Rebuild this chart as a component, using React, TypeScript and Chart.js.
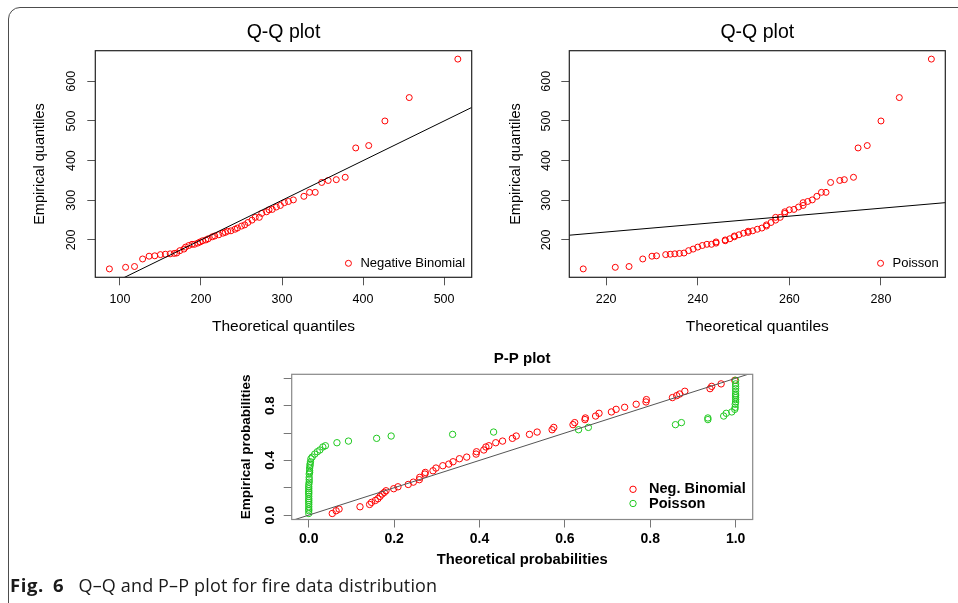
import React, { useEffect, useRef } from "react";
import { Chart, registerables } from "chart.js";

Chart.register(...registerables);

// ---------- Q-Q data (empirical quantiles vs theoretical quantiles) ----------
const QQ_EMPIRICAL = [
  127, 131, 133, 152, 159, 160, 163, 164, 165, 166,
  167, 173, 177, 182, 186, 189, 189, 192, 195, 198,
  200, 203, 208, 210, 213, 217, 219, 222, 223, 227,
  230, 235, 238, 244, 250, 257, 257, 267, 271, 276,
  277, 283, 287, 294, 297, 301, 310, 320, 320, 345,
  350, 352, 358, 432, 438, 500, 559, 656,
];
const QQ_NB_THEORETICAL = [
  87, 107, 118, 128, 136, 143, 150, 156, 162, 167,
  170, 174, 179, 181, 185, 189, 192, 196, 199, 202,
  206, 209, 214, 217, 222, 227, 230, 233, 237, 242,
  245, 250, 254, 258, 263, 267, 272, 275, 281, 284,
  288, 293, 298, 303, 308, 314, 327, 334, 341, 349,
  357, 367, 378, 391, 407, 427, 457, 517,
];
const QQ_POIS_THEORETICAL = [
  215, 222, 225, 228, 230, 231, 233, 234, 235, 236,
  237, 238, 239, 240, 241, 242, 243, 244, 244, 246,
  246, 247, 248, 248, 249, 250, 251, 251, 252, 253,
  254, 255, 255, 256, 257, 257, 258, 259, 259, 260,
  261, 262, 263, 263, 264, 265, 266, 267, 268, 269,
  271, 272, 274, 275, 277, 280, 284, 291,
];
const QQ_NB_X_TICKS = [100, 200, 300, 400, 500];
const QQ_POIS_X_TICKS = [220, 240, 260, 280];
const QQ_Y_TICKS = [200, 300, 400, 500, 600];
const QQ_REF_LINE = [0, 1000]; // y = x

// ---------- P-P data (empirical vs theoretical probabilities) ----------
const PP_EMPIRICAL = [
  0.012, 0.032, 0.044, 0.061, 0.078, 0.093, 0.107, 0.12, 0.137, 0.154,
  0.166, 0.178, 0.193, 0.207, 0.224, 0.241, 0.259, 0.276, 0.3, 0.312,
  0.324, 0.344, 0.361, 0.373, 0.39, 0.412, 0.424, 0.446, 0.463, 0.476,
  0.498, 0.507, 0.529, 0.541, 0.561, 0.578, 0.59, 0.607, 0.624, 0.641,
  0.661, 0.676, 0.698, 0.71, 0.724, 0.744, 0.754, 0.773, 0.788, 0.81,
  0.827, 0.844, 0.859, 0.873, 0.885, 0.905, 0.924, 0.941, 0.959, 0.985,
];
const PP_NB_THEORETICAL = [
  0.055, 0.064, 0.071, 0.12, 0.1425, 0.147, 0.156, 0.162, 0.167, 0.172,
  0.177, 0.181, 0.199, 0.209, 0.233, 0.245, 0.259, 0.26, 0.272, 0.273,
  0.291, 0.298, 0.314, 0.328, 0.338, 0.353, 0.37, 0.392, 0.393, 0.41,
  0.415, 0.422, 0.438, 0.454, 0.477, 0.486, 0.517, 0.535, 0.57, 0.574,
  0.619, 0.623, 0.647, 0.648, 0.672, 0.68, 0.709, 0.72, 0.74, 0.767,
  0.79, 0.791, 0.852, 0.862, 0.869, 0.881, 0.94, 0.944, 0.966, 0.998,
];
const PP_POIS_THEORETICAL = [
  0, 0, 0, 0, 0, 0, 0, 0, 0, 0,
  0, 0, 0, 0, 0, 0.001, 0.001, 0.001, 0.001, 0.002,
  0.002, 0.002, 0.003, 0.003, 0.004, 0.005, 0.008, 0.014, 0.02, 0.026,
  0.033, 0.039, 0.066, 0.093, 0.159, 0.193, 0.337, 0.433, 0.632, 0.655,
  0.859, 0.873, 0.935, 0.935, 0.972, 0.978, 0.991, 0.998, 0.999, 0.999,
  1, 1, 1, 1, 1, 1, 1, 1, 1, 1,
];
const PP_TICKS = [0, 0.2, 0.4, 0.6, 0.8, 1.0];
const PP_Y_LABELED = [0, 0.4, 0.8];
const PP_REF_LINE = [-0.2, 1.2]; // y = x

const SANS = '"Liberation Sans", Arial, Helvetica, sans-serif';
const RED = "#ff0000";
const GREEN = "#1fc81f";

const pairs = (xs: number[], ys: number[]) => xs.map((x, i) => ({ x, y: ys[i] }));
const refLine = (ends: number[]) => ends.map((v) => ({ x: v, y: v }));

// Draws the R-style box round the plot region and an R-style legend inside it
const rFramePlugin = {
  id: "rFrame",
  afterDatasetsDraw(chart: any, _args: any, opts: any) {
    const { ctx, chartArea: a } = chart;
    ctx.save();
    ctx.strokeStyle = opts.boxColor;
    ctx.lineWidth = opts.boxWidth;
    ctx.strokeRect(a.left, a.top, a.right - a.left, a.bottom - a.top);
    const items = chart.data.datasets.filter((d: any) => d.label);
    ctx.font = opts.legendFont;
    const maxW = Math.max(...items.map((d: any) => ctx.measureText(d.label).width));
    const textX = a.right - opts.legendRight - maxW;
    items.forEach((d: any, i: number) => {
      const y = a.bottom - opts.legendBottom - (items.length - 1 - i) * opts.legendRow;
      ctx.beginPath();
      ctx.arc(textX - opts.symbolGap, y, d.pointRadius, 0, Math.PI * 2);
      ctx.strokeStyle = d.borderColor;
      ctx.lineWidth = 1;
      ctx.stroke();
      ctx.fillStyle = "#000";
      ctx.textAlign = "left";
      ctx.textBaseline = "middle";
      ctx.fillText(d.label, textX, y);
    });
    ctx.restore();
  },
};

function buildConfig(p: any) {
  return {
    type: "scatter",
    data: { datasets: p.datasets },
    options: {
      responsive: false,
      animation: false,
      events: [],
      layout: { padding: { left: 0, right: p.padRight, top: 0, bottom: 0 } },
      plugins: {
        legend: { display: false },
        tooltip: { enabled: false },
        title: {
          display: true,
          text: p.title,
          font: p.titleFont,
          color: "#000",
          padding: p.titlePad,
          fullSize: false,
        },
        rFrame: p.frame,
      },
      scales: {
        x: {
          type: "linear",
          position: "bottom",
          bounds: "data",
          min: p.xMin,
          max: p.xMax,
          afterBuildTicks: (s: any) => {
            s.ticks = p.xTicks.map((value: number) => ({ value }));
          },
          afterFit: (s: any) => {
            s.height = p.xAxisHeight;
          },
          ticks: {
            font: p.xTickFont,
            color: "#000",
            padding: p.xTickPad,
            autoSkip: false,
            minRotation: 0,
            maxRotation: 0,
            callback: p.xFmt,
          },
          grid: { drawOnChartArea: false, drawTicks: true, tickLength: 8, color: p.tickColor, tickColor: p.tickColor, lineWidth: 1 },
          border: { display: false },
          title: { display: true, text: p.xLabel, font: p.xTitleFont, color: "#000", padding: { top: 0, bottom: p.xTitlePadBottom } },
        },
        y: {
          type: "linear",
          position: "left",
          bounds: "data",
          min: p.yMin,
          max: p.yMax,
          afterBuildTicks: (s: any) => {
            s.ticks = p.yTicks.map((value: number) => ({ value }));
          },
          afterFit: (s: any) => {
            s.width = p.yAxisWidth;
          },
          ticks: {
            font: p.yTickFont,
            color: "#000",
            padding: p.yTickPad,
            autoSkip: false,
            minRotation: 90,
            maxRotation: 90,
            crossAlign: "center",
            callback: p.yFmt,
          },
          grid: { drawOnChartArea: false, drawTicks: true, tickLength: 8, color: p.tickColor, tickColor: p.tickColor, lineWidth: 1 },
          border: { display: false },
          title: { display: true, text: p.yLabel, font: p.yTitleFont, color: "#000", padding: { top: p.yTitlePadTop, bottom: 0 } },
        },
      },
    },
    plugins: [rFramePlugin],
  };
}

function qqConfig(theo: number[], label: string, xTicks: number[], xMin: number, xMax: number, yAxisWidth: number, padRight: number, yTickPad: number, yTitlePadTop: number) {
  return buildConfig({
    datasets: [
      {
        label,
        data: pairs(theo, QQ_EMPIRICAL),
        borderColor: RED,
        backgroundColor: "rgba(0,0,0,0)",
        borderWidth: 1,
        pointRadius: 3,
        pointStyle: "circle",
        order: 2,
      },
      {
        data: refLine(QQ_REF_LINE),
        showLine: true,
        borderColor: "#000",
        borderWidth: 1,
        pointRadius: 0,
        order: 0,
      },
    ],
    title: "Q-Q plot",
    titleFont: { family: SANS, size: 19.5, weight: "normal" },
    titlePad: { top: 20.8, bottom: 6.5 },
    padRight,
    xMin,
    xMax,
    yMin: 105.8,
    yMax: 677.2,
    xTicks,
    yTicks: QQ_Y_TICKS,
    xFmt: (v: number) => String(v),
    yFmt: (v: number) => String(v),
    xLabel: "Theoretical quantiles",
    yLabel: "Empirical quantiles",
    xTickFont: { family: SANS, size: 12.5 },
    yTickFont: { family: SANS, size: 12.5 },
    xTitleFont: { family: SANS, size: 15.5 },
    yTitleFont: { family: SANS, size: 14.5 },
    xTickPad: 7.2,
    yTickPad,
    xTitlePadBottom: 4,
    yTitlePadTop,
    yAxisWidth,
    xAxisHeight: 62.7,
    tickColor: "#555",
    frame: {
      boxColor: "#222",
      boxWidth: 1.2,
      legendFont: `13px ${SANS}`,
      legendRight: 6.5,
      legendBottom: 14,
      legendRow: 14,
      symbolGap: 12,
    },
  });
}

function ppConfig() {
  return buildConfig({
    datasets: [
      {
        label: "Neg. Binomial",
        data: pairs(PP_NB_THEORETICAL, PP_EMPIRICAL),
        borderColor: RED,
        backgroundColor: "rgba(0,0,0,0)",
        borderWidth: 1,
        pointRadius: 3.2,
        order: 2,
      },
      {
        label: "Poisson",
        data: pairs(PP_POIS_THEORETICAL, PP_EMPIRICAL),
        borderColor: GREEN,
        backgroundColor: "rgba(0,0,0,0)",
        borderWidth: 1,
        pointRadius: 3.2,
        order: 1,
      },
      {
        data: refLine(PP_REF_LINE),
        showLine: true,
        borderColor: "#555",
        borderWidth: 1,
        pointRadius: 0,
        order: 0,
      },
    ],
    title: "P-P plot",
    titleFont: { family: SANS, size: 15, weight: "bold" },
    titlePad: { top: 10, bottom: 6.3 },
    padRight: 27.3,
    xMin: -0.04,
    xMax: 1.04,
    yMin: -0.032,
    yMax: 1.029,
    xTicks: PP_TICKS,
    yTicks: PP_TICKS,
    xFmt: (v: number) => v.toFixed(1),
    yFmt: (v: number) => (PP_Y_LABELED.some((l) => Math.abs(l - v) < 1e-9) ? v.toFixed(1) : ""),
    xLabel: "Theoretical probabilities",
    yLabel: "Empirical probabilities",
    xTickFont: { family: SANS, size: 14, weight: "bold" },
    yTickFont: { family: SANS, size: 13.5, weight: "bold" },
    xTitleFont: { family: SANS, size: 14.8, weight: "bold" },
    yTitleFont: { family: SANS, size: 13.5, weight: "bold" },
    xTickPad: 3.1,
    yTickPad: 4.3,
    xTitlePadBottom: 6.1,
    yTitlePadTop: 37.7,
    yAxisWidth: 91.7,
    xAxisHeight: 55.5,
    tickColor: "#777",
    frame: {
      boxColor: "#888",
      boxWidth: 1.2,
      legendFont: `bold 14.5px ${SANS}`,
      legendRight: 7,
      legendBottom: 16,
      legendRow: 14.2,
      symbolGap: 16,
    },
  });
}

export default function App() {
  const qqNbRef = useRef<HTMLCanvasElement>(null);
  const qqPoisRef = useRef<HTMLCanvasElement>(null);
  const ppRef = useRef<HTMLCanvasElement>(null);

  useEffect(() => {
    const charts: Chart[] = [];
    if (qqNbRef.current) {
      charts.push(new Chart(qqNbRef.current, qqConfig(QQ_NB_THEORETICAL, "Negative Binomial", QQ_NB_X_TICKS, 69.6, 534.1, 95.3, 7.3, 4.9, 30.8) as any));
    }
    if (qqPoisRef.current) {
      charts.push(new Chart(qqPoisRef.current, qqConfig(QQ_POIS_THEORETICAL, "Poisson", QQ_POIS_X_TICKS, 211.96, 294.04, 90.3, 12.7, 4.2, 27.8) as any));
    }
    if (ppRef.current) {
      charts.push(new Chart(ppRef.current, ppConfig() as any));
    }
    return () => charts.forEach((c) => c.destroy());
  }, []);

  const abs = (left: number, top: number, width: number, height: number): React.CSSProperties => ({
    position: "absolute",
    left,
    top,
    width,
    height,
    display: "block",
  });

  return (
    <div style={{ position: "absolute", left: 0, top: 0, width: 958, height: 603, overflow: "hidden", background: "#fff" }}>
      <div
        style={{
          position: "absolute",
          left: 7.5,
          top: 6.5,
          width: 1200,
          height: 1200,
          border: "1.6px solid #4d4d4d",
          borderTopLeftRadius: 12,
          boxSizing: "border-box",
        }}
      />
      <canvas ref={qqNbRef} width={479} height={340} style={abs(0, 0, 479, 340)} />
      <canvas ref={qqPoisRef} width={479} height={340} style={abs(479, 0, 479, 340)} />
      <canvas ref={ppRef} width={580} height={235} style={abs(200, 340, 580, 235)} />
      <div
        style={{
          position: "absolute",
          left: 10,
          top: 575,
          fontFamily: '"Open Sans", "Noto Sans", sans-serif',
          fontSize: 18,
          lineHeight: "20px",
          color: "#1a1a1a",
          whiteSpace: "nowrap",
        }}
      >
        <b style={{ fontSize: 18.5, letterSpacing: "0.6px" }}>Fig.</b>
        <b style={{ fontSize: 18.5, marginLeft: 9 }}>6</b>
        <span style={{ marginLeft: 15, letterSpacing: "0.15px" }}>Q–Q and P–P plot for fire data distribution</span>
      </div>
    </div>
  );
}
